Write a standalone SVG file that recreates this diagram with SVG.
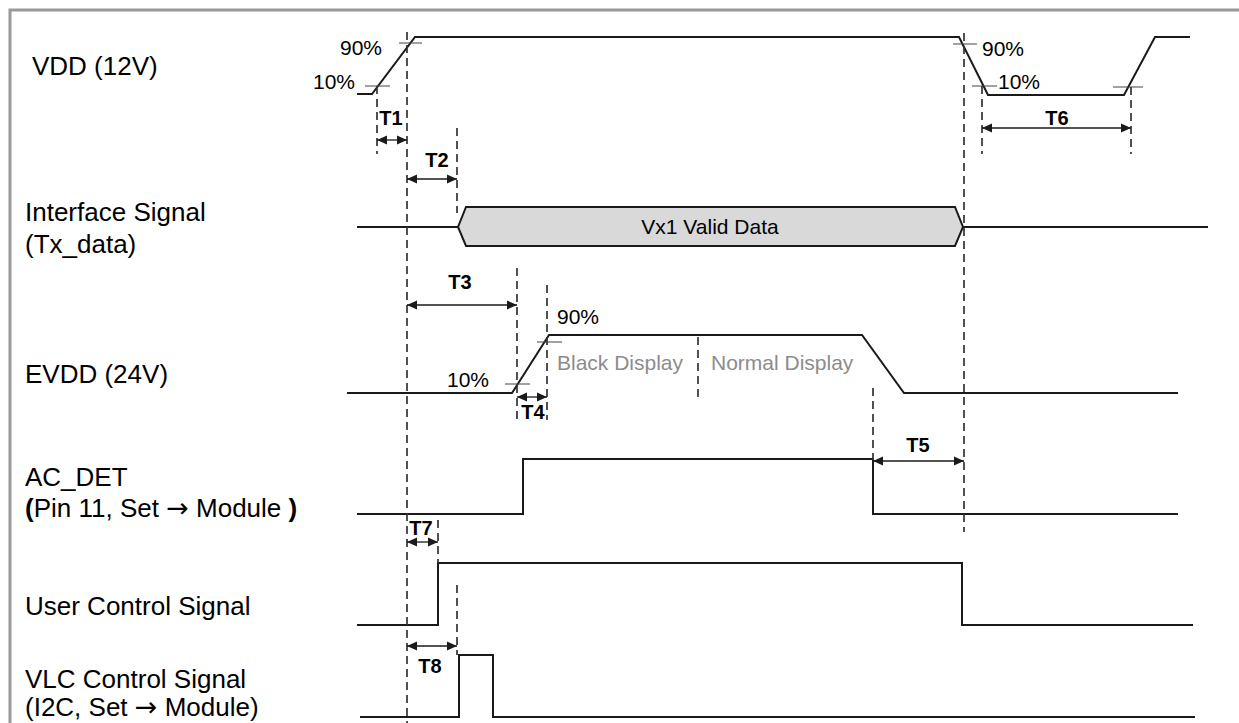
<svg xmlns="http://www.w3.org/2000/svg" width="1239" height="723" viewBox="0 0 1239 723">
<style>
.lbl{font-family:"Liberation Sans",Arial,sans-serif;font-size:26px;fill:#000}
.arr{font-family:"DejaVu Sans",sans-serif;font-size:27px}
.pct{font-family:"Liberation Sans",Arial,sans-serif;font-size:21px;fill:#000}
.t{font-family:"Liberation Sans",Arial,sans-serif;font-size:20px;font-weight:bold;fill:#000;text-anchor:middle}
.gry{font-family:"Liberation Sans",Arial,sans-serif;font-size:21px;fill:#8c8c8c}
.w{fill:none;stroke:#1a1a1a;stroke-width:2;stroke-linejoin:miter}
.tick{fill:none;stroke:#444;stroke-width:1}
.dash{fill:none;stroke:#333;stroke-width:1.7;stroke-dasharray:8,5}
.dim{fill:none;stroke:#1a1a1a;stroke-width:1.3;marker-start:url(#ah);marker-end:url(#ah)}
</style>
<defs>
<marker id="ah" markerUnits="userSpaceOnUse" markerWidth="12" markerHeight="10" refX="10" refY="5" orient="auto-start-reverse">
<path d="M0,0.5 L10,5 L0,9.5 Z" fill="#1a1a1a"/>
</marker>
</defs>
<rect x="10" y="10" width="1300" height="800" fill="#fff" stroke="#999" stroke-width="3"/>

<g id="labels">
<text class="lbl" x="32" y="75">VDD (12V)</text>
<text class="lbl" x="25" y="221">Interface Signal</text>
<text class="lbl" x="25" y="253">(Tx_data)</text>
<text class="lbl" x="25" y="383">EVDD (24V)</text>
<text class="lbl" x="25" y="486">AC_DET</text>
<text class="lbl" x="25" y="517"><tspan font-weight="bold">(</tspan>Pin 11, Set <tspan class="arr">→</tspan> Module <tspan font-weight="bold">)</tspan></text>
<text class="lbl" x="25" y="615">User Control Signal</text>
<text class="lbl" x="25" y="688">VLC Control Signal</text>
<text class="lbl" x="25" y="716">(I2C, Set <tspan class="arr">→</tspan> Module)</text>
</g>

<g id="vdd">
<polyline class="w" points="357,94 372,94 415,37 959,37 988,95 1124,95 1155,37 1190,37"/>
<line class="tick" x1="365" y1="86" x2="390" y2="86"/>
<line class="tick" x1="399" y1="43" x2="422" y2="43"/>
<line class="tick" x1="953" y1="44" x2="977" y2="44"/>
<line class="tick" x1="972" y1="86" x2="997" y2="86"/>
<line class="tick" x1="1113" y1="87" x2="1143" y2="87"/>
<text class="pct" x="340" y="55">90%</text>
<text class="pct" x="313" y="89">10%</text>
<text class="pct" x="982" y="56">90%</text>
<text class="pct" x="998" y="89">10%</text>
</g>

<g id="interface">
<line class="w" x1="357" y1="227" x2="458" y2="227"/>
<polygon points="458,227 466,207 955,207 963,227 955,246 466,246" fill="#d9d9d9" stroke="#1a1a1a" stroke-width="2"/>
<line class="w" x1="963" y1="227" x2="1208" y2="227"/>
<text class="pct" x="710" y="234" text-anchor="middle">Vx1 Valid Data</text>
</g>

<g id="evdd">
<polyline class="w" points="347,393 512,393 549,335 862,335 904,393 1178,393"/>
<line class="tick" x1="505" y1="384" x2="530" y2="384"/>
<line class="tick" x1="537" y1="342" x2="562" y2="342"/>
<text class="pct" x="447" y="387">10%</text>
<text class="pct" x="557" y="324">90%</text>
<text class="gry" x="557" y="370">Black Display</text>
<text class="gry" x="711" y="370">Normal Display</text>
</g>

<g id="acdet">
<polyline class="w" points="357,514 523,514 523,459 873,459 873,514 1178,514"/>
</g>

<g id="user">
<polyline class="w" points="357,625 438,625 438,563 962,563 962,625 1193,625"/>
</g>

<g id="vlc">
<polyline class="w" points="360,717 459,717 459,655 493,655 493,717 1195,717"/>
</g>

<g id="connectors">
<line class="dash" x1="377" y1="86" x2="377" y2="154"/>
<line class="dash" x1="407" y1="32" x2="407" y2="723"/>
<line class="dash" x1="457" y1="128" x2="457" y2="213"/>
<line class="dash" x1="517" y1="268" x2="517" y2="420"/>
<line class="dash" x1="547" y1="285" x2="547" y2="420"/>
<line class="dash" x1="698" y1="337" x2="698" y2="398"/>
<line class="dash" x1="873" y1="388" x2="873" y2="460"/>
<line class="dash" x1="964" y1="33" x2="964" y2="532"/>
<line class="dash" x1="982" y1="86" x2="982" y2="154"/>
<line class="dash" x1="1131" y1="87" x2="1131" y2="154"/>
<line class="dash" x1="438" y1="520" x2="438" y2="563"/>
<line class="dash" x1="457" y1="585" x2="457" y2="655"/>

<line class="dim" x1="377" y1="140" x2="407" y2="140"/>
<line class="dim" x1="407" y1="179" x2="457" y2="179"/>
<line class="dim" x1="407" y1="305" x2="517" y2="305"/>
<line class="dim" x1="517" y1="397" x2="547" y2="397"/>
<line class="dim" x1="873" y1="461" x2="964" y2="461"/>
<line class="dim" x1="982" y1="128" x2="1131" y2="128"/>
<line class="dim" x1="407" y1="542" x2="438" y2="542"/>
<line class="dim" x1="407" y1="646" x2="457" y2="646"/>

<text class="t" x="391" y="125">T1</text>
<text class="t" x="437" y="167">T2</text>
<text class="t" x="460" y="289">T3</text>
<text class="t" x="533" y="419">T4</text>
<text class="t" x="918" y="452">T5</text>
<text class="t" x="1057" y="125">T6</text>
<text class="t" x="421" y="535">T7</text>
<text class="t" x="430" y="673">T8</text>
</g>
</svg>
